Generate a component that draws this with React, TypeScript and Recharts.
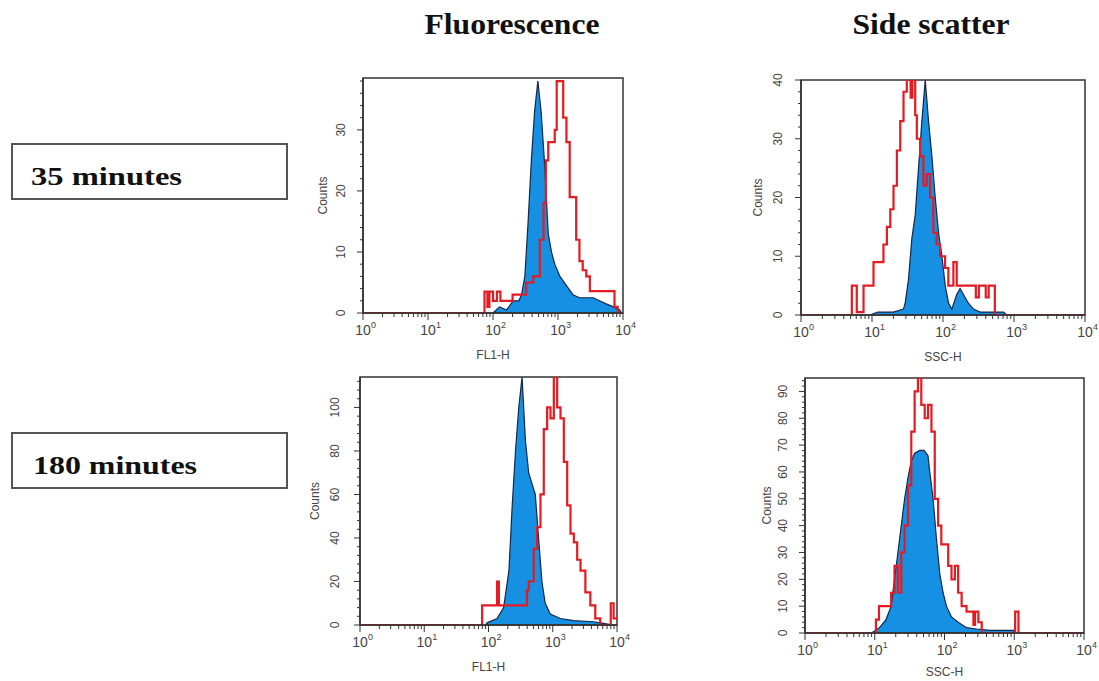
import React from 'react';
import { ComposedChart, Area, Line, XAxis, YAxis, ReferenceArea } from 'recharts';

// ---------- shared axis ticks ----------
const xTicks = [
  1, 2, 3, 4, 5, 6, 7, 8, 9,
  10, 20, 30, 40, 50, 60, 70, 80, 90,
  100, 200, 300, 400, 500, 600, 700, 800, 900,
  1000, 2000, 3000, 4000, 5000, 6000, 7000, 8000, 9000,
  10000,
];
const fl35YTicks = [0, 2, 4, 6, 8, 10, 12, 14, 16, 18, 20, 22, 24, 26, 28, 30, 32, 34, 36, 38];
const ssc35YTicks = [0, 2, 4, 6, 8, 10, 12, 14, 16, 18, 20, 22, 24, 26, 28, 30, 32, 34, 36, 38, 40];
const fl180YTicks = [0, 4, 8, 12, 16, 20, 24, 28, 32, 36, 40, 44, 48, 52, 56, 60, 64, 68, 72, 76, 80, 84, 88, 92, 96, 100, 104, 108, 112];
const ssc180YTicks = [0, 2, 4, 6, 8, 10, 12, 14, 16, 18, 20, 22, 24, 26, 28, 30, 32, 34, 36, 38, 40, 42, 44, 46, 48, 50, 52, 54, 56, 58, 60, 62, 64, 66, 68, 70, 72, 74, 76, 78, 80, 82, 84, 86, 88, 90, 92, 94];

// ---------- labels ----------
const columnTitles = ['Fluorescence', 'Side scatter'];
const rowLabels = ['35 minutes', '180 minutes'];
const xAxisLabels = ['FL1-H', 'SSC-H'];

// ---------- 35 min, fluorescence ----------
const fl35RedX = [1, 74, 82, 88, 100, 115, 130, 200, 324, 417, 525, 600, 650, 708, 891, 955, 1202, 1349, 1514, 1905, 2138, 2399, 2720, 3090, 7400, 8300, 10000];
const fl35RedY = [0, 3.5, 1, 3.5, 2, 3.5, 2, 3, 5, 6, 12, 18, 25, 28, 30, 38, 32, 28, 19, 12, 8.5, 7, 6, 3.6, 1, 0, 0];
const fl35BlueX = [100, 126, 162, 204, 250, 275, 309, 347, 389, 436, 490, 550, 617, 708, 794, 891, 1072, 1349, 1698, 2138, 3467, 4365, 5495, 7079, 8913, 9500];
const fl35BlueY = [0, 1, 0.5, 2, 2, 3, 6, 15, 25, 33, 38, 33, 25, 13, 10, 8, 6, 4.5, 3, 2.5, 2.5, 2, 1.5, 1, 0.5, 0];

// ---------- 35 min, side scatter ----------
const ssc35RedX = [1, 5.2, 6.1, 7.6, 10.5, 14.5, 16.2, 18.1, 20.1, 22.4, 25, 27.8, 30.9, 35, 37, 40.6, 42.8, 47.6, 53, 59, 65.7, 73, 81, 91, 107, 119, 140, 156, 241, 290, 320, 400, 440, 537, 10000];
const ssc35RedY = [0, 5, 0.5, 5, 9, 12, 15, 18, 22, 28, 33, 38, 40, 37, 40, 34, 30, 27, 22, 24, 20, 14, 12, 10, 8, 5, 9, 5, 5, 3, 5, 3, 5, 0, 0];
const ssc35BlueX = [9.4, 12, 20, 27.7, 29.3, 32.6, 36.4, 40.6, 45.2, 50.4, 56.2, 62.6, 69.8, 77.7, 86.6, 96.5, 107.5, 120, 133, 156, 174, 194, 228, 268, 333, 711, 790];
const ssc35BlueY = [0, 0.5, 0.5, 1, 2, 6, 13, 17, 25, 33, 40, 33, 27, 20, 14, 10, 5, 2, 1, 3.5, 4.5, 3.5, 2, 1, 0.5, 0.5, 0];

// ---------- 180 min, fluorescence ----------
const fl180RedX = [1, 79.6, 136, 145, 398, 424, 506, 570, 644, 725, 818, 922, 1039, 1171, 1320, 1487, 1677, 1890, 2130, 2400, 2705, 3220, 3846, 4590, 5480, 8000, 8850, 10000];
const fl180RedY = [0, 9, 20, 9, 16, 20, 35, 45, 60, 90, 100, 95, 114, 100, 95, 75, 55, 42, 38, 30, 25, 15, 9, 3, 0, 10, 3, 3];
const fl180BlueX = [90, 95, 136, 172, 208, 234, 263, 296, 333, 375, 422, 475, 535, 602, 678, 763, 915, 1317, 2130, 4300, 5480, 8850];
const fl180BlueY = [0, 1, 3, 8, 25, 55, 80, 100, 114, 85, 70, 65, 60, 40, 20, 10, 5, 3, 2, 1.5, 1, 0];

// ---------- 180 min, side scatter ----------
const ssc180RedX = [1, 10.4, 11.5, 14.5, 17.2, 19.2, 21.5, 24, 26.8, 30, 33.4, 37.3, 41.6, 46.5, 52, 58, 65, 72.5, 81, 90, 113, 126, 141, 157, 176, 207, 260, 274, 306, 342, 1030, 1150, 10000];
const ssc180RedY = [0, 5, 10, 10, 15, 25, 15, 30, 40, 55, 75, 90, 95, 85, 80, 85, 75, 50, 40, 33, 25, 20, 25, 15, 10, 8, 3, 8, 4, 0, 8, 0, 0];
const ssc180BlueX = [9, 11.7, 14.5, 17.2, 19.2, 21.5, 24, 26.8, 30, 33.4, 37.3, 44, 51, 58, 61.5, 68.6, 76.7, 85.6, 95.5, 106.6, 126, 157, 207, 288, 450, 978, 1030];
const ssc180BlueY = [0, 2, 5, 10, 20, 30, 40, 50, 58, 64, 67, 68, 68, 66, 60, 50, 35, 22, 15, 10, 6, 4, 2, 1.5, 1, 1, 0];

const zip = (xs: number[], ys: number[]) => xs.map((x, i) => ({ x, y: ys[i] }));

const SANS = '"Liberation Sans", Arial, Helvetica, sans-serif';
const SERIF = "'Liberation Serif'";
const BLUE = '#1690e2';
const BLUE_EDGE = '#14284a';
const RED = '#e41b22';
const INK = '#333';

const XTick = (props: any) => {
  const { x, y, payload } = props;
  const v = payload.value as number;
  const lg = Math.log10(v);
  const exp = Math.round(lg);
  const major = Math.abs(lg - exp) < 1e-9;
  return (
    <g>
      <line x1={x} x2={x} y1={y} y2={y + (major ? 7 : 4)} stroke={INK} strokeWidth={1} />
      {major && (
        <g fontFamily={SANS} fill="#444">
          <text x={x} y={y + 22} textAnchor="middle" fontSize={14}>10</text>
          <text x={x + 8} y={y + 15} textAnchor="start" fontSize={9}>{exp}</text>
        </g>
      )}
    </g>
  );
};

const makeYTick = (majorStep: number, labelDx: number) => (props: any) => {
  const { x, y, payload } = props;
  const v = payload.value as number;
  const major = v % majorStep === 0;
  const lx = x - labelDx;
  return (
    <g>
      <line x1={x} x2={x - (major ? 6 : 3)} y1={y} y2={y} stroke={INK} strokeWidth={1} />
      {major && (
        <text
          x={lx}
          y={y}
          transform={`rotate(-90 ${lx} ${y})`}
          textAnchor="middle"
          dominantBaseline="central"
          fontFamily={SANS}
          fontSize={12}
          fill="#444"
        >
          {v}
        </text>
      )}
    </g>
  );
};

type PanelProps = {
  plotLeft: number;
  plotTop: number;
  plotW: number;
  plotH: number;
  yMax: number;
  yTicks: number[];
  majorStep: number;
  blue: { x: number; y: number }[];
  red: { x: number; y: number }[];
  xLabel: string;
  xLabelOffset: number;
  tickDx: number;
  countsDx: number;
};

function Panel(p: PanelProps) {
  const AX_W = 70;
  const AX_H = 55;
  const MT = 10;
  const MR = 14;
  const YTick = makeYTick(p.majorStep, p.tickDx);
  return (
    <div style={{ position: 'absolute', left: p.plotLeft - AX_W, top: p.plotTop - MT }}>
      <ComposedChart
        width={p.plotW + AX_W + MR}
        height={p.plotH + MT + AX_H}
        margin={{ top: MT, right: MR, left: 0, bottom: 0 }}
      >
        <XAxis
          type="number"
          dataKey="x"
          scale="log"
          domain={[1, 10000]}
          ticks={xTicks}
          interval={0}
          allowDataOverflow
          height={AX_H}
          tickSize={0}
          tickMargin={0}
          tickLine={false}
          axisLine={{ stroke: INK, strokeWidth: 1.5 }}
          tick={(tp: any) => <XTick {...tp} />}
          label={{
            value: p.xLabel,
            position: 'insideBottom',
            offset: p.xLabelOffset,
            style: { fontFamily: SANS, fontSize: 12, fill: '#444' },
          }}
        />
        <YAxis
          type="number"
          dataKey="y"
          domain={[0, p.yMax]}
          ticks={p.yTicks}
          interval={0}
          allowDataOverflow
          width={AX_W}
          tickSize={0}
          tickMargin={0}
          tickLine={false}
          axisLine={{ stroke: INK, strokeWidth: 1.5 }}
          tick={(tp: any) => <YTick {...tp} />}
          label={{
            value: 'Counts',
            angle: -90,
            position: 'insideLeft',
            offset: AX_W - p.countsDx,
            style: { textAnchor: 'middle', fontFamily: SANS, fontSize: 12, fill: '#444' },
          }}
        />
        <Area
          data={p.blue}
          dataKey="y"
          type="linear"
          fill={BLUE}
          fillOpacity={1}
          stroke={BLUE_EDGE}
          strokeWidth={1.2}
          dot={false}
          activeDot={false}
          isAnimationActive={false}
        />
        <Line
          data={p.red}
          dataKey="y"
          type="stepAfter"
          stroke={RED}
          strokeWidth={2.2}
          dot={false}
          activeDot={false}
          isAnimationActive={false}
        />
        <ReferenceArea
          x1={1}
          x2={10000}
          y1={0}
          y2={p.yMax}
          fill="none"
          fillOpacity={0}
          stroke={INK}
          strokeWidth={1.5}
          ifOverflow="visible"
        />
      </ComposedChart>
    </div>
  );
}

const titleStyle: React.CSSProperties = {
  fontFamily: SERIF,
  fontWeight: 'bold',
  fill: '#111',
};

export default function App() {
  return (
    <div
      style={{
        position: 'absolute',
        left: 0,
        top: 0,
        width: 1099,
        height: 681,
        overflow: 'hidden',
        background: '#fff',
      }}
    >
      <svg width={1099} height={681} style={{ position: 'absolute', left: 0, top: 0 }}>
        <text x={512} y={34} textAnchor="middle" fontSize={29} style={titleStyle}
          textLength={175} lengthAdjust="spacingAndGlyphs">{columnTitles[0]}</text>
        <text x={931} y={34} textAnchor="middle" fontSize={29} style={titleStyle}
          textLength={157} lengthAdjust="spacingAndGlyphs">{columnTitles[1]}</text>

        <rect x={12} y={144} width={275} height={55} fill="#fff" stroke="#555" strokeWidth={2} />
        <text x={31} y={185} fontSize={26} style={titleStyle}
          textLength={151} lengthAdjust="spacingAndGlyphs">{rowLabels[0]}</text>

        <rect x={12} y={433} width={275} height={55} fill="#fff" stroke="#555" strokeWidth={2} />
        <text x={33} y={474} fontSize={26} style={titleStyle}
          textLength={164} lengthAdjust="spacingAndGlyphs">{rowLabels[1]}</text>
      </svg>

      <Panel plotLeft={363} plotTop={78} plotW={260} plotH={235} yMax={38.5} yTicks={fl35YTicks} majorStep={10}
        blue={zip(fl35BlueX, fl35BlueY)} red={zip(fl35RedX, fl35RedY)} xLabel={xAxisLabels[0]} xLabelOffset={9} tickDx={22} countsDx={40} />
      <Panel plotLeft={801} plotTop={80} plotW={284} plotH={235} yMax={40} yTicks={ssc35YTicks} majorStep={10}
        blue={zip(ssc35BlueX, ssc35BlueY)} red={zip(ssc35RedX, ssc35RedY)} xLabel={xAxisLabels[1]} xLabelOffset={9} tickDx={23} countsDx={43} />
      <Panel plotLeft={360} plotTop={377} plotW={257} plotH={248} yMax={114} yTicks={fl180YTicks} majorStep={20}
        blue={zip(fl180BlueX, fl180BlueY)} red={zip(fl180RedX, fl180RedY)} xLabel={xAxisLabels[0]} xLabelOffset={9} tickDx={25} countsDx={45} />
      <Panel plotLeft={805} plotTop={378} plotW={279} plotH={255} yMax={95} yTicks={ssc180YTicks} majorStep={10}
        blue={zip(ssc180BlueX, ssc180BlueY)} red={zip(ssc180RedX, ssc180RedY)} xLabel={xAxisLabels[1]} xLabelOffset={12} tickDx={22} countsDx={38} />
    </div>
  );
}
